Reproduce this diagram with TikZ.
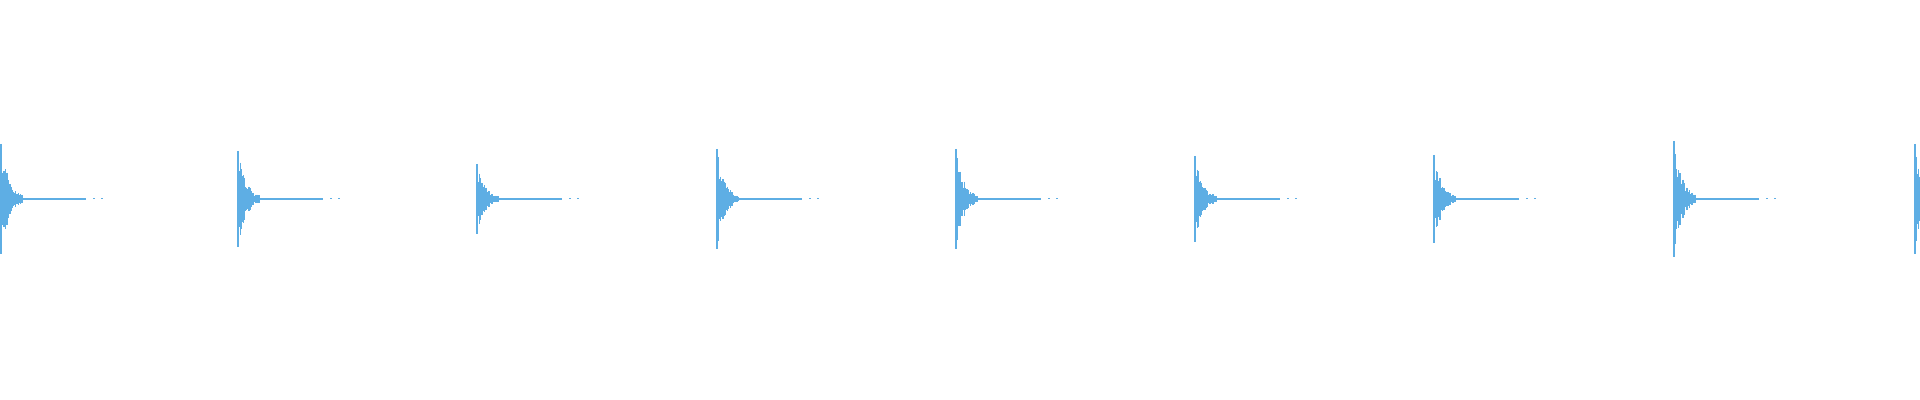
\documentclass[tikz,border=0pt]{standalone}
\usepackage{tikz}

\definecolor{wave}{RGB}{94,174,228}
\tikzset{trace/.style={draw=wave, line width=0.6pt}}

\begin{document}
\begin{tikzpicture}[x=0.5pt, y=-0.5pt]
	\useasboundingbox (0,0) rectangle (1920,400);
	\pgfmathsetseed{7}
	% one burst per hit: position and peak amplitude
	\foreach \px/\amp [count=\k] in {1/55, 238/48, 477/35, 717/50, 956/50, 1195/43, 1434/44, 1674/58, 1915/55} {
		\coordinate (hit\k) at (\px,199);
		\draw[trace] (\px,199-\amp) -- (\px,199+\amp);
		\foreach \i in {1,...,28} {
			\pgfmathsetmacro{\a}{\amp*exp(-\i/11)*(0.5+0.5*rnd)}
			\draw[trace] (\px+\i*0.75,199-\a) -- (\px+\i*0.75,199+\a);
		}
		% flat tail and trailing specks
		\draw[trace, line width=0.8pt] (hit\k) -- ++(85,0);
		\fill[wave] (\px+92,198.5) rectangle ++(1.5,1);
		\fill[wave] (\px+100,198.5) rectangle ++(1.5,1);
	}
\end{tikzpicture}
\end{document}
